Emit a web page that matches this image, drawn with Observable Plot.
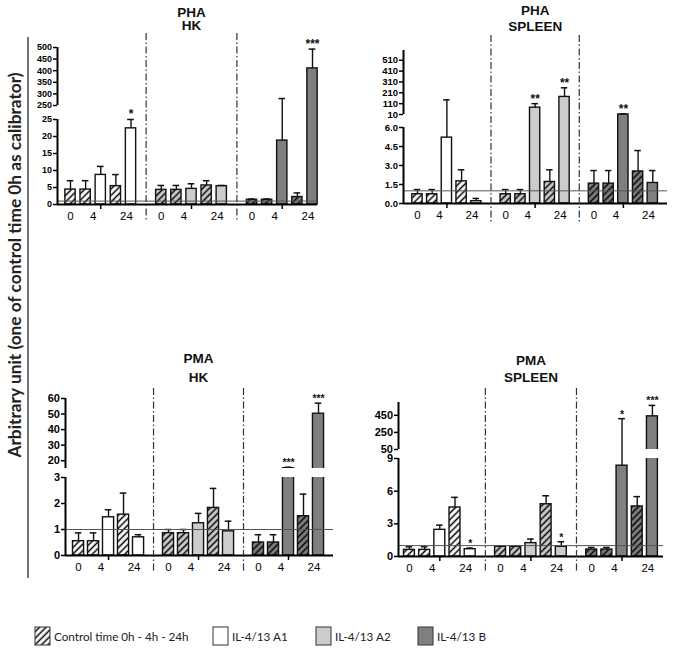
<!DOCTYPE html>
<html><head><meta charset="utf-8">
<script src="https://cdn.jsdelivr.net/npm/d3@7"></script>
<script src="https://cdn.jsdelivr.net/npm/@observablehq/plot@0.6"></script>
<style>
html,body{margin:0;padding:0;background:#fff;}
#root{position:relative;width:675px;height:658px;overflow:hidden;background:#fff;}
.panel{position:absolute;}
</style></head><body><div id="root"></div>
<script>
// ---------------- data ----------------
const groupNames = ["IL-4/13 A1", "IL-4/13 A2", "IL-4/13 B"];
const barOrder = ["control 0h", "control 4h", "treated 4h", "control 24h", "treated 24h"];
const timeLabels = ["0", "4", "24"];
const legendLabels = ["Control time 0h - 4h - 24h", "IL-4/13 A1", "IL-4/13 A2", "IL-4/13 B"];
const yTitle = "Arbitrary unit (one of control time 0h as calibrator)";

const phaHkTitle = ["PHA", "HK"];
const phaHkMean = [[4.4, 4.4, 8.7, 5.4, 22.4], [4.3, 4.3, 4.6, 5.6, 5.4], [1.4, 1.4, 18.8, 2.2, 410]];
const phaHkErr  = [[7.0, 7.0, 11.2, 8.8, 25.2], [5.6, 5.6, 6.1, 7.0, 5.6], [1.6, 1.6, 280, 3.4, 493]];
const phaHkSig  = [["", "", "", "", "*"], ["", "", "", "", ""], ["", "", "", "", "***"]];
const phaHkLowerTicks = [0, 5, 10, 15, 20, 25];
const phaHkUpperTicks = [250, 300, 350, 400, 450, 500];

const phaSpTitle = ["PHA", "SPLEEN"];
const phaSpMean = [[0.73, 0.73, 5.2, 1.75, 0.18], [0.73, 0.73, 73, 1.7, 172], [1.57, 1.57, 10, 2.53, 1.62]];
const phaSpErr  = [[1.1, 1.1, 145, 2.66, 0.4], [1.1, 1.1, 110, 2.66, 256], [2.6, 2.6, 16, 4.18, 2.6]];
const phaSpSig  = [["", "", "", "", ""], ["", "", "**", "", "**"], ["", "", "**", "", ""]];
const phaSpLowerTicks = [0, 1.5, 3, 4.5, 6];
const phaSpUpperTicks = [10, 110, 210, 310, 410, 510];

const pmaHkTitle = ["PMA", "HK"];
const pmaHkMean = [[0.55, 0.55, 1.47, 1.57, 0.70], [0.86, 0.86, 1.24, 1.83, 0.93], [0.5, 0.5, 15.2, 1.51, 50.2]];
const pmaHkErr  = [[0.87, 0.87, 1.76, 2.4, 0.80], [1.0, 1.0, 1.62, 2.58, 1.32], [0.8, 0.8, 15.8, 2.36, 57]];
const pmaHkSig  = [["", "", "", "", ""], ["", "", "", "", ""], ["", "", "***", "", "***"]];
const pmaHkLowerTicks = [0, 1, 2, 3];
const pmaHkUpperTicks = [20, 30, 40, 50, 60];

const pmaSpTitle = ["PMA", "SPLEEN"];
const pmaSpMean = [[0.61, 0.61, 2.45, 4.5, 0.67], [0.89, 0.89, 1.23, 4.8, 0.89], [0.64, 0.64, 8.34, 4.6, 438]];
const pmaSpErr  = [[0.89, 0.89, 2.88, 5.43, 0.77], [0.98, 0.98, 1.6, 5.58, 1.35], [0.83, 0.83, 411, 5.5, 566]];
const pmaSpSig  = [["", "", "", "", "*"], ["", "", "", "", "*"], ["", "", "*", "", "***"]];
const pmaSpLowerTicks = [0, 3, 6, 9];
const pmaSpUpperTicks = [50, 250, 450];

// ---------------- styles / layout ----------------
const groupColors = ["#ffffff", "#cccccc", "#7f7f7f"];
const refValue = 1;
const groupSlots = 6;                 // slots per group (5 bars + 1 gap)
const timeLabelOffset = [0, 1.5, 3.7];
const centerTickOffset = 2;
const dividerSlots = [5, 11];
const titleSlot = 8;
const tickFontFamily = "'Liberation Sans', Arial, sans-serif";
const titleFontFamily = "'Liberation Sans Narrow', 'Liberation Sans', Arial, sans-serif";

const panels = [
  {title: phaHkTitle, mean: phaHkMean, err: phaHkErr, sig: phaHkSig, yDomain: [0, 25, 250, 500], lowerTicks: phaHkLowerTicks, upperTicks: phaHkUpperTicks, split: false, decimals: 0},
  {title: phaSpTitle, mean: phaSpMean, err: phaSpErr, sig: phaSpSig, yDomain: [0, 6, 10, 600], lowerTicks: phaSpLowerTicks, upperTicks: phaSpUpperTicks, split: false, decimals: 1},
  {title: pmaHkTitle, mean: pmaHkMean, err: pmaHkErr, sig: pmaHkSig, yDomain: [0, 3, 15, 60], lowerTicks: pmaHkLowerTicks, upperTicks: pmaHkUpperTicks, split: true, decimals: 0},
  {title: pmaSpTitle, mean: pmaSpMean, err: pmaSpErr, sig: pmaSpSig, yDomain: [0, 9, 50, 600], lowerTicks: pmaSpLowerTicks, upperTicks: pmaSpUpperTicks, split: true, decimals: 0}
];
// yRange: pixel rows (in the panel svg) of the four breakpoints of yDomain; frame top = yRange[3], frame bottom = yRange[0]
const layouts = [
  {left: 30, top: 0, width: 300, height: 232, mL: 27, mR: 13, xDomain: [-0.86, 16.33], yRange: [204, 119, 105, 47], divTop: 33, divBottom: 222, titleY: [12, 25.5], tickFont: 9, starSize: 12, hw: 0.34},
  {left: 340, top: 0, width: 335, height: 232, mL: 63, mR: 8, xDomain: [-0.95, 17.0], yRange: [203, 127, 114, 50], divTop: 35, divBottom: 222, titleY: [10, 26], tickFont: 9.5, starSize: 12, hw: 0.35},
  {left: 30, top: 340, width: 310, height: 245, mL: 35, mR: 7, xDomain: [-0.87, 17.0], yRange: [215, 137, 128, 58], divTop: 48, divBottom: 233, titleY: [18, 37], tickFont: 11, starSize: 10.5, hw: 0.37},
  {left: 340, top: 340, width: 335, height: 245, mL: 58, mR: 12, xDomain: [-0.72, 16.73], yRange: [216, 118, 109, 62], divTop: 48, divBottom: 233, titleY: [20, 37], tickFont: 11, starSize: 10.5, hw: 0.36}
];

const root = d3.select("#root");

// hatch patterns
const defsSvg = root.append("svg").attr("width", 0).attr("height", 0).style("position", "absolute");
const defs = defsSvg.append("defs");
groupColors.forEach((c, i) => {
  const p = defs.append("pattern").attr("id", "hatch" + i).attr("patternUnits", "userSpaceOnUse")
    .attr("width", 4.6).attr("height", 4.6).attr("patternTransform", "rotate(45)");
  p.append("rect").attr("width", 4.6).attr("height", 4.6).attr("fill", c);
  p.append("line").attr("x1", 2.3).attr("y1", -1).attr("x2", 2.3).attr("y2", 6).attr("stroke", "#000").attr("stroke-width", 1.5);
});

function makePanel(p, L) {
  const rows = [];
  p.mean.forEach((g, gi) => g.forEach((v, bi) => rows.push({
    s: gi * groupSlots + bi, v, e: p.err[gi][bi], sig: p.sig[gi][bi], kind: barOrder[bi], group: groupNames[gi],
    fill: (bi === 2 || bi === 4) ? groupColors[gi] : `url(#hatch${gi})`
  })));
  const [, lowTop, upBot, upTop] = p.yDomain;
  // broken axis: a piecewise transform of the data values (lower and upper segments)
  const heights = L.yRange.map(r => L.yRange[0] - r);
  const brk = d3.scaleLinear().domain(p.yDomain).range(heights);
  const labelSlots = [], labelText = new Map();
  groupColors.forEach((_, g) => timeLabelOffset.forEach((o, i) => {
    const s = g * groupSlots + o; labelSlots.push(s); labelText.set(s, timeLabels[i]);
  }));
  const centerTicks = groupColors.map((_, g) => g * groupSlots + centerTickOffset);
  const yTicks = p.lowerTicks.concat(p.upperTicks);
  const fmt = d => (d < 10 && p.decimals) ? d.toFixed(p.decimals) : String(d);
  const mT = L.yRange[3], mB = L.height - L.yRange[0];
  const frameW = L.width - L.mL - L.mR;

  const marks = [
    Plot.rectY(rows, {x1: d => d.s - L.hw, x2: d => d.s + L.hw, y1: () => 0, y2: "v", fill: "fill", stroke: "#111", strokeWidth: 1.4})
  ];
  if (p.split) {
    marks.push(Plot.rectY(rows.filter(d => d.v > upBot), {x1: d => d.s - L.hw - 0.1, x2: d => d.s + L.hw + 0.1, y1: () => lowTop, y2: () => upBot, fill: "white"}));
  }
  marks.push(
    Plot.ruleX(rows.filter(d => d.e > d.v), {x: "s", y1: "v", y2: "e", stroke: "#111", strokeWidth: 1.4}),
    Plot.ruleY(rows.filter(d => d.e > d.v), {y: "e", x1: d => d.s - 0.22, x2: d => d.s + 0.22, stroke: "#111", strokeWidth: 1.5}),
    Plot.ruleY([refValue], {stroke: "#555", strokeWidth: 1}),
    Plot.ruleY([0], {stroke: "#000", strokeWidth: 2}),
    // broken y axis: two segments
    Plot.ruleX([L.xDomain[0]], {y1: () => 0, y2: () => lowTop, stroke: "#000", strokeWidth: 2}),
    Plot.ruleX([L.xDomain[0]], {y1: () => upBot, y2: () => upTop, stroke: "#000", strokeWidth: 2}),
    Plot.tickY(yTicks, {y: d => d, insetLeft: -4, insetRight: frameW, stroke: "#000", strokeWidth: 1.5}),
    Plot.text(yTicks, {y: d => d, text: fmt, frameAnchor: "left", textAnchor: "end", dx: -5.5, lineAnchor: "middle", fontSize: L.tickFont, fontWeight: "bold", fill: "#000", fontFamily: tickFontFamily}),
    Plot.axisX({ticks: centerTicks, tickSize: 5, tickFormat: () => "", strokeWidth: 1.5, label: null}),
    Plot.axisX({ticks: labelSlots, tickSize: 0, tickPadding: 7, tickFormat: d => labelText.get(d), fontSize: 11.5, label: null, fontFamily: tickFontFamily}),
    Plot.ruleX(dividerSlots, {stroke: "#333", strokeWidth: 1.2, strokeDasharray: "7,2.5,1.5,2.5",
      insetTop: L.divTop - mT, insetBottom: L.yRange[0] - L.divBottom}),
    Plot.text(rows.filter(d => d.sig), {x: "s", y: "e", text: "sig", lineAnchor: "bottom", dy: -1, fontSize: L.starSize, fontWeight: "bold", fill: "#111", fontFamily: tickFontFamily})
  );
  p.title.forEach((t, i) => marks.push(Plot.text([t], {x: () => titleSlot, frameAnchor: "top", dy: L.titleY[i] - mT, lineAnchor: "middle", fontSize: 13.5, fontWeight: "bold", fill: "#111", fontFamily: titleFontFamily})));

  const chart = Plot.plot({
    width: L.width, height: L.height,
    marginLeft: L.mL, marginRight: L.mR, marginTop: mT, marginBottom: mB,
    x: {domain: L.xDomain, label: null},
    y: {transform: brk, domain: [0, heights[3]], label: null, axis: null},
    color: {type: "identity"},
    style: {background: "transparent", fontFamily: tickFontFamily, color: "#000", overflow: "visible"},
    marks
  });
  root.append("div").attr("class", "panel").style("left", L.left + "px").style("top", L.top + "px").node().appendChild(chart);
}

panels.forEach((p, i) => makePanel(p, layouts[i]));

// y title and left rule
const left = root.append("svg").attr("width", 40).attr("height", 658).style("position", "absolute").style("left", "0px").style("top", "0px");
left.append("text").attr("transform", "translate(14,265) rotate(-90)").attr("text-anchor", "middle").attr("dominant-baseline", "central")
  .attr("font-family", "Lato, 'Open Sans', sans-serif").attr("font-weight", "bold").attr("font-size", 17.3).attr("fill", "#222").text(yTitle);
left.append("line").attr("x1", 28).attr("x2", 28).attr("y1", 37).attr("y2", 578).attr("stroke", "#444").attr("stroke-width", 1.5);

// legend
const legendX = [35, 213, 316, 418];
const legendFills = ["url(#hatch0)", groupColors[0], groupColors[1], groupColors[2]];
const leg = root.append("svg").attr("width", 675).attr("height", 36).style("position", "absolute").style("left", "0px").style("top", "618px");
legendLabels.forEach((t, i) => {
  leg.append("rect").attr("x", legendX[i]).attr("y", 9).attr("width", 15).attr("height", 18).attr("fill", legendFills[i]).attr("stroke", "#333").attr("stroke-width", 1);
  leg.append("text").attr("x", legendX[i] + 19).attr("y", 18).attr("dominant-baseline", "central")
    .attr("font-family", "Lato, 'Open Sans', sans-serif").attr("font-size", 11.7).attr("fill", "#222").text(t);
});
</script>
</body></html>
